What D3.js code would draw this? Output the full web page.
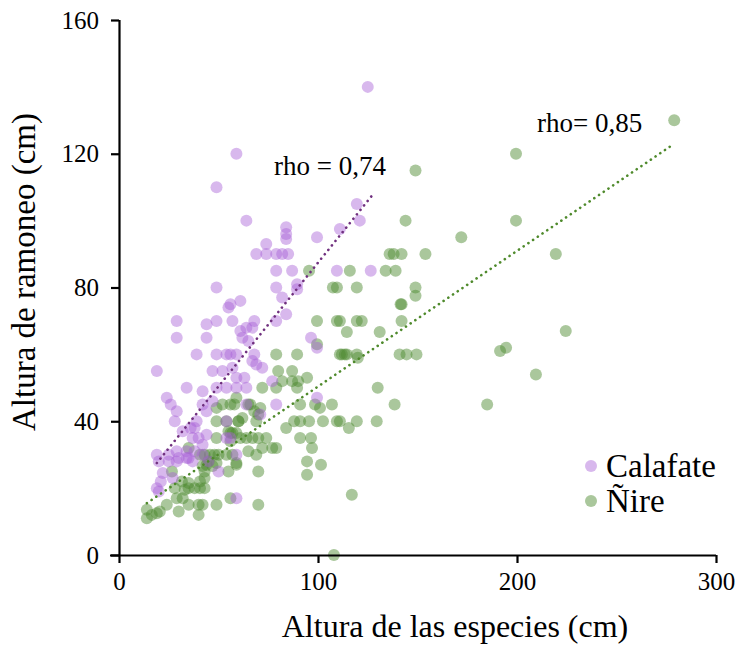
<!DOCTYPE html>
<html>
<head>
<meta charset="utf-8">
<script src="https://cdn.jsdelivr.net/npm/d3@7"></script>
<style>
html,body{margin:0;padding:0;background:#fff;}
</style>
</head>
<body>
<svg id="chart" width="742" height="649"></svg>
<script>
// ---- data ----
const xTicks = [0, 100, 200, 300];
const yTicks = [0, 40, 80, 120, 160];
const seriesNames = ["Calafate", "Ñire"];
const rhoLabels = ["rho = 0,74", "rho= 0,85"];

const calafateX = [125,49,59,64,119.5,121,111,99.5,84,84,84,74,69,74,79,82,85,79,87,109.5,126.5,79,89.5,89.5,82,84,61,56,55,49,57,79,64,67,68,62,65,96.5,99.5,99.5,29,29,44,44,49,39,49,54,56,59,68,19,47,52,57,59,63,67,69,72,34,42,49,54,59,64,24,26,29,28,42,44,47,64,77,79,54,39,36,32,37,40,44,19,20,25,29,30,34,19,20,22,27,21,34,35,38,37,42,50,59,54,56,59,71,42,38,61,25,29,45];
const calafateY = [140,110,120,100,105,100,97.5,95,98,96,94.5,93,90,90,90,90,90,85,85,85,85,80,81,79.5,77,72,76,75,74,80,70,70,68,68,70,65,64,65,62,47,70,65,69,65,70,60,60,60,60,60,60,55,55,55,56,53,53,58,57,56,50,49,50,50,50,50,47,45,43,40,45,43,46,45,52,45,40,40,38,37,35,35,36,30,28,30,31,29,29,20,19,24.5,23,22,31,29,31,28,33,25,30,35,35,17,42,30,38,67,28,28,28];

const nireX = [279,199.5,199.5,219.5,224.5,209.5,191.5,194.5,185,149,172,144,136,138,142,154,116,134,139,107.5,109.5,119.5,149,149,142,141.5,111,119.5,122,99.5,109.5,142,114.5,131,111,113.5,119.5,120,141,144.5,149.5,99.5,130,138.5,111,119.5,115.5,129.5,94.5,91,98.5,101,107,91,95.5,102.5,109.5,91,96.5,97,94.5,101.5,94.5,117,108,79,89.5,80,87,72,79,82,87,89.5,90,59,56,65,71,68,70,62,60,69,84,88,56,61,64,67,70,74,72,77,79,65,69,59,70,70,56,14,14,16.5,19,20.5,24,30,29,32,33,35,35,40,42,40,26.6,28,31.6,35,38,40.7,43,40.7,43,43,44,45,43,40.7,45.7,48,49,35,49,49,55,57,59,60,49,52,58,66,59,55,49,50,54,57,42,47,54,56,95.5,112,114.5];
const nireY = [130,120,100,90,67,54,61,62,45,115,95,100,90,90,90,90,85,85,85,80,80,80,80,77.5,75,75,70,70,70,70,70,70,66.7,66.7,60,60,60,59,60,60,60,63,50,45,40,40,38,40,53,45,45,44,45,40,40,40,40,35,35,32,28,27,24,18,0,60,60,55,55,50,50,52,52,50,52,47,45,45,44,43,42,41,40,40,38,40,36.5,35,35,35,35,35,32,32,32,31,30,27,25,15,17,13.5,11,12,12.5,13,15,13,17,17,19.5,20,15,15,15,12,25,20,22,21.5,20,20,20,22,23,25,27,28,30,30,30,30,27.5,32,35,40,37,36.5,36.5,40,44,45,45,45,27.5,25,15,30,30,30,26.6,26.6,40,34,85,60,60];

// trend line end points
const calafateTrendX = [19, 127];
const calafateTrendY = [27.5, 107.4];
const nireTrendX = [14, 279];
const nireTrendY = [15.5, 123];

// ---- drawing ----
const FONT = "'Liberation Serif', 'Times New Roman', Times, serif";
const svg = d3.select("#chart");
const x = d3.scaleLinear().domain([0, 300]).range([119, 716]);
const y = d3.scaleLinear().domain([0, 160]).range([555, 20]);

const purple = "#a862d8", green = "#4d8a30";
const purpleLine = "#70307f", greenLine = "#4f8a2c";

const calafate = calafateX.map((v, i) => ({x: v, y: calafateY[i]}));
const nire = nireX.map((v, i) => ({x: v, y: nireY[i]}));

// points
svg.append("g").selectAll("circle").data(nire).join("circle")
  .attr("cx", d => x(d.x)).attr("cy", d => y(d.y)).attr("r", 6)
  .attr("fill", green).attr("fill-opacity", 0.48);
svg.append("g").selectAll("circle").data(calafate).join("circle")
  .attr("cx", d => x(d.x)).attr("cy", d => y(d.y)).attr("r", 6)
  .attr("fill", purple).attr("fill-opacity", 0.45);

// trend lines
const line = d3.line().x(d => x(d[0])).y(d => y(d[1]));
svg.append("path").datum(calafateTrendX.map((v, i) => [v, calafateTrendY[i]]))
  .attr("d", line).attr("fill", "none").attr("stroke", purpleLine)
  .attr("stroke-width", 2.6).attr("stroke-linecap", "round").attr("stroke-dasharray", "0.1 5.6");
svg.append("path").datum(nireTrendX.map((v, i) => [v, nireTrendY[i]]))
  .attr("d", line).attr("fill", "none").attr("stroke", greenLine)
  .attr("stroke-width", 2.6).attr("stroke-linecap", "round").attr("stroke-dasharray", "0.1 5.6");

// axes
const xAxis = svg.append("g").attr("transform", "translate(0,555)")
  .call(d3.axisBottom(x).tickValues(xTicks).tickSize(8).tickPadding(9).tickFormat(d3.format("d")));
const yAxis = svg.append("g").attr("transform", "translate(119,0)")
  .call(d3.axisLeft(y).tickValues(yTicks).tickSize(8).tickPadding(12).tickFormat(d3.format("d")));
[xAxis, yAxis].forEach(g => {
  g.attr("font-family", null).attr("font-size", null);
  g.select(".domain").attr("stroke", "#000").attr("stroke-width", 2.2);
  g.selectAll(".tick line").attr("stroke", "#000").attr("stroke-width", 2.2);
  g.selectAll(".tick text").style("font-family", FONT).style("font-size", "25px").attr("fill", "#000");
});
xAxis.select(".domain").attr("d", "M110,0.5H716");
yAxis.select(".domain").attr("d", "M0.5,555V20");

function txt(sel) { return sel.style("font-family", FONT).attr("fill", "#000"); }

// axis titles
txt(svg.append("text")).attr("x", 455).attr("y", 637).attr("text-anchor", "middle")
  .style("font-size", "32px").text("Altura de las especies (cm)");
txt(svg.append("text")).attr("transform", "translate(35,272) rotate(-90)").attr("text-anchor", "middle")
  .style("font-size", "33px").text("Altura de ramoneo (cm)");

// rho labels
txt(svg.append("text")).attr("x", 274).attr("y", 175).style("font-size", "27px").text(rhoLabels[0]);
txt(svg.append("text")).attr("x", 537).attr("y", 132).style("font-size", "27px").text(rhoLabels[1]);

// legend
const legColors = [purple, green];
const leg = svg.append("g");
seriesNames.forEach((n, i) => {
  leg.append("circle").attr("cx", 591).attr("cy", 466 + i * 35).attr("r", 6)
    .attr("fill", legColors[i]).attr("fill-opacity", i === 0 ? 0.45 : 0.48);
  txt(leg.append("text")).attr("x", 606).attr("y", 477 + i * 35).style("font-size", "33px").text(n);
});
</script>
</body>
</html>
